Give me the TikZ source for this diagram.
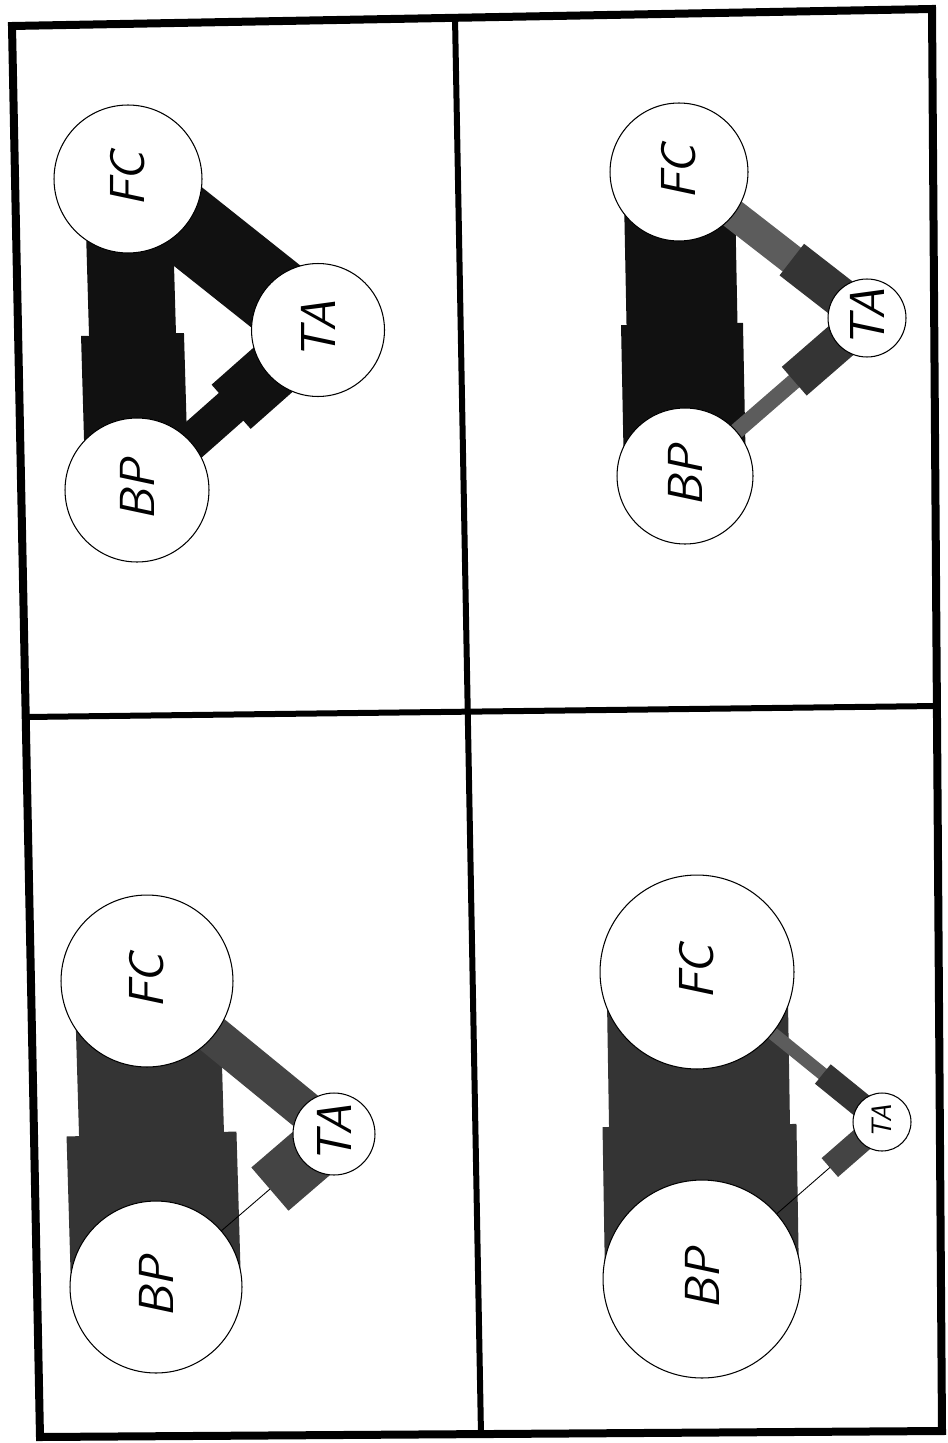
\documentclass[tikz,border=0pt]{standalone}
\usepackage{tikz}
\usetikzlibrary{calc,backgrounds}
\definecolor{bandblack}{RGB}{17,17,17}
\definecolor{banddark}{RGB}{52,52,52}
\definecolor{bandmid}{RGB}{68,68,68}
\definecolor{bandlight}{RGB}{92,92,92}
\newcommand{\bigsz}{\fontsize{28}{28}\selectfont}
\newcommand{\smallsz}{\fontsize{16}{16}\selectfont}

\begin{document}
\begin{tikzpicture}[
  x=0.02cm, y=-0.02cm,
  font=\sffamily\slshape\bigsz,
  stn/.style={circle, draw, line width=0.6pt, fill=white, inner sep=0pt, rotate=90, minimum size=#1},
  band/.style={line width=#1},
  frame/.style={line width=0.16cm, line join=miter},
  divider/.style={line width=0.12cm}
]
\useasboundingbox (0,0) rectangle (947,1443);

% upper left
\node[stn=2.96cm] (fc1) at (128,179) {FC};
\node[stn=2.66cm] (ta1) at (318,330) {TA};
\node[stn=2.88cm] (bp1) at (137,490) {BP};

% lower left
\node[stn=3.44cm] (fc2) at (147,981) {FC};
\node[stn=1.64cm] (ta2) at (334,1134) {TA};
\node[stn=3.44cm] (bp2) at (156,1287) {BP};

% upper right
\node[stn=2.76cm] (fc3) at (679,172) {FC};
\node[stn=1.56cm] (ta3) at (867,318) {TA};
\node[stn=2.72cm] (bp3) at (685,476) {BP};

% lower right
\node[stn=3.88cm] (fc4) at (697,972) {FC};
\node[stn=1.16cm, font=\sffamily\slshape\smallsz] (ta4) at (882,1122) {TA};
\node[stn=3.96cm] (bp4) at (702,1279) {BP};

\begin{pgfonlayer}{background}
\fill[white] (0,0) rectangle (947,1443);
% upper left: narrow half first, wide half on top
\draw[band=1.74cm, bandblack] (fc1.center) -- ($(fc1.center)!0.53!(bp1.center)$);
\draw[band=2.06cm, bandblack] (bp1.center) -- ($(bp1.center)!0.5!(fc1.center)$);
\draw[band=1.58cm, bandblack] (fc1.center) -- (ta1.center);
\draw[band=0.74cm, bandblack] (bp1.center) -- ($(bp1.center)!0.55!(ta1.center)$);
\draw[band=1.18cm, bandblack] (ta1.center) -- ($(ta1.center)!0.48!(bp1.center)$);
% lower left
\draw[band=2.9cm, banddark] (fc2.center) -- ($(fc2.center)!0.53!(bp2.center)$);
\draw[band=3.4cm, banddark] (bp2.center) -- ($(bp2.center)!0.5!(fc2.center)$);
\draw[band=0.78cm, bandmid] (fc2.center) -- (ta2.center);
\draw[band=1.14cm, bandmid] (ta2.center) -- ($(ta2.center)!0.36!(bp2.center)$) coordinate (tb2);
\draw[line width=0.5pt] (tb2) -- (bp2.center);
% upper right
\draw[band=2.22cm, bandblack] (fc3.center) -- ($(fc3.center)!0.53!(bp3.center)$);
\draw[band=2.44cm, bandblack] (bp3.center) -- ($(bp3.center)!0.5!(fc3.center)$);
\draw[band=0.6cm, bandlight] (fc3.center) -- ($(fc3.center)!0.63!(ta3.center)$);
\draw[band=0.8cm, banddark] (ta3.center) -- ($(ta3.center)!0.4!(fc3.center)$);
\draw[band=0.32cm, bandlight] (bp3.center) -- ($(bp3.center)!0.63!(ta3.center)$);
\draw[band=0.76cm, banddark] (ta3.center) -- ($(ta3.center)!0.4!(bp3.center)$);
% lower right
\draw[band=3.62cm, banddark] (fc4.center) -- ($(fc4.center)!0.53!(bp4.center)$);
\draw[band=3.88cm, banddark] (bp4.center) -- ($(bp4.center)!0.5!(fc4.center)$);
\draw[band=0.26cm, bandlight] (fc4.center) -- ($(fc4.center)!0.71!(ta4.center)$);
\draw[band=0.5cm, banddark] (ta4.center) -- ($(ta4.center)!0.32!(fc4.center)$);
\draw[band=0.5cm, bandmid] (ta4.center) -- ($(ta4.center)!0.29!(bp4.center)$) coordinate (tb4);
\draw[line width=0.5pt] (tb4) -- (bp4.center);
\end{pgfonlayer}

% frame and dividers
\draw[frame] (12,26) -- (932,9) -- (942,1431) -- (40,1437) -- cycle;
\draw[divider] (26,717) -- (937,706);
\draw[divider] (455,17) -- (481,1435);
\end{tikzpicture}
\end{document}
